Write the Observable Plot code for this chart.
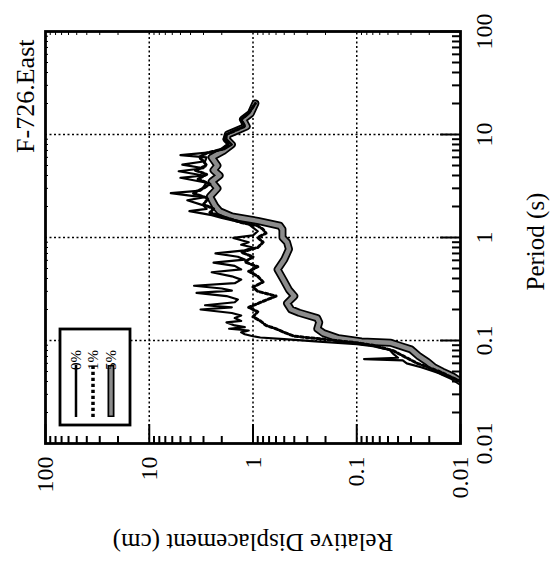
<!DOCTYPE html>
<html><head><meta charset="utf-8">
<script src="https://cdn.jsdelivr.net/npm/d3@7"></script>
<script src="https://cdn.jsdelivr.net/npm/@observablehq/plot@0.6"></script>
<style>
html,body{margin:0;padding:0;background:#fff;overflow:hidden;width:551px;height:563px;}
#wrap{position:absolute;left:0;top:0;width:563px;height:551px;transform-origin:0 0;transform:translate(0px,563px) rotate(-90deg);}
#wrap svg text{font-family:'Liberation Serif','Times New Roman',serif;}
</style></head><body><div id="wrap"></div>
<script>
const title = "F-726.East";
const xLabel = "Period (s)";
const yLabel = "Relative Displacement (cm)";
const seriesNames = ["0%", "1%", "5%"];
const decadeTicks = [0.01, 0.1, 1, 10, 100];
const decadeLabels = ["0.01", "0.1", "1", "10", "100"];

// 0% damping (solid black)
const period0 = [0.040,0.042,0.050,0.055,0.060,0.064,0.066,0.068,0.075,0.081,0.088,0.092,0.098,0.103,0.107,0.110,0.115,0.120,0.125,0.130,0.135,0.140,0.150,0.155,0.165,0.175,0.185,0.200,0.210,0.220,0.235,0.250,0.270,0.290,0.305,0.320,0.340,0.360,0.390,0.420,0.460,0.490,0.530,0.570,0.610,0.650,0.700,0.750,0.800,0.850,0.900,0.990,1.050,1.150,1.250,1.350,1.450,1.550,1.650,1.800,1.900,2.050,2.300,2.450,2.700,2.850,3.100,3.400,3.800,4.000,4.400,4.700,5.100,5.500,6.000,6.300,6.700,7.200,8.000,9.000,10.0,11.0,12.0,14.0,16.0,20.0];
const disp0   = [0.010,0.011,0.018,0.024,0.033,0.036,0.085,0.040,0.045,0.048,0.070,0.10,0.25,0.50,0.85,1.0,1.2,1.3,1.1,1.7,1.2,1.5,1.8,1.3,1.5,1.3,1.6,3.2,1.6,2.9,1.5,1.4,1.8,3.5,1.6,2.0,3.7,1.5,1.3,1.6,2.5,1.3,1.5,2.4,1.2,1.4,2.3,1.2,1.0,1.3,1.1,1.55,1.0,0.9,1.0,1.1,1.5,2.0,2.5,4.1,2.8,3.0,4.3,3.0,6.2,3.2,3.0,2.8,5.0,3.0,5.2,3.0,4.8,2.9,2.8,5.0,2.6,1.9,1.6,1.8,1.8,1.5,1.2,1.3,1.1,0.95];

// 1% damping (dotted black)
const period1 = [0.040,0.050,0.060,0.070,0.080,0.090,0.095,0.100,0.105,0.110,0.120,0.130,0.140,0.155,0.170,0.190,0.210,0.240,0.270,0.300,0.330,0.370,0.420,0.470,0.520,0.580,0.650,0.720,0.800,0.900,1.000,1.100,1.200,1.300,1.400,1.500,1.600,1.750,1.900,2.100,2.400,2.700,3.000,3.300,3.700,4.100,4.500,5.000,5.500,6.000,6.600,7.200,8.000,9.000,10.0,12.0,14.0,16.0,20.0];
const disp1   = [0.010,0.016,0.026,0.035,0.045,0.070,0.10,0.16,0.25,0.40,0.50,0.60,0.75,0.85,1.0,0.9,1.1,0.8,0.6,0.9,1.0,0.8,0.9,1.1,0.9,1.2,1.0,1.3,0.9,0.8,0.9,0.75,0.8,0.9,1.3,1.6,2.0,2.6,2.4,3.0,2.7,3.8,3.0,2.6,3.4,2.8,3.6,2.8,3.0,3.3,2.8,2.0,1.7,1.9,1.8,1.2,1.3,1.1,0.95];

// 5% damping (grey band)
const period5 = [0.040,0.045,0.050,0.055,0.0625,0.070,0.082,0.090,0.095,0.098,0.105,0.118,0.130,0.150,0.165,0.186,0.200,0.230,0.270,0.310,0.390,0.490,0.610,0.770,0.900,1.000,1.200,1.300,1.450,1.600,1.800,2.000,2.500,3.000,3.500,4.000,4.500,5.000,6.000,7.000,8.000,9.000,10.0,11.0,12.0,14.0,16.0,20.0];
const disp5   = [0.010,0.012,0.015,0.018,0.021,0.025,0.030,0.040,0.047,0.090,0.15,0.21,0.24,0.23,0.24,0.36,0.43,0.47,0.40,0.45,0.51,0.58,0.50,0.45,0.47,0.52,0.52,0.55,0.9,1.6,2.1,2.3,2.6,2.2,2.5,2.1,2.4,2.2,2.5,1.9,1.6,1.8,1.75,1.4,1.15,1.25,1.05,0.95];

const rows = (ps, ds, s) => ps.map((p, i) => ({period: p, disp: ds[i], series: s}));
const d0 = rows(period0, disp0, seriesNames[0]);
const d1 = rows(period1, disp1, seriesNames[1]);
const d5 = rows(period5, disp5, seriesNames[2]);

const minorTicks = [];
for (const dec of [0.01, 0.1, 1, 10]) for (let k = 2; k <= 9; k++) minorTicks.push(+(dec * k).toPrecision(3));

const W = 563, H = 551, mL = 119, mR = 32, mT = 45, mB = 91;
const fw = W - mL - mR, fh = H - mT - mB;
const labelMap = new Map(decadeTicks.map((d, i) => [d, decadeLabels[i]]));
const serif = "'Liberation Serif','Times New Roman',serif";

const chart = Plot.plot({
  width: W, height: H, marginLeft: mL, marginRight: mR, marginTop: mT, marginBottom: mB,
  style: {fontFamily: serif, fontSize: "24px", color: "#000", background: "#fff"},
  x: {type: "log", domain: [0.01, 100]},
  y: {type: "log", domain: [0.01, 100]},
  marks: [
    Plot.ruleX(decadeTicks.slice(1, -1), {stroke: "#000", strokeWidth: 1.5, strokeDasharray: "2,2.5"}),
    Plot.ruleY(decadeTicks.slice(1, -1), {stroke: "#000", strokeWidth: 1.5, strokeDasharray: "2,2.5"}),
    Plot.line(d5, {x: "period", y: "disp", stroke: "#000", strokeWidth: 8, clip: true}),
    Plot.line(d5, {x: "period", y: "disp", stroke: "#8c8c8c", strokeWidth: 4.5, clip: true}),
    Plot.line(d1, {x: "period", y: "disp", stroke: "#000", strokeWidth: 3, strokeDasharray: "3,2.5", clip: true}),
    Plot.line(d0, {x: "period", y: "disp", stroke: "#000", strokeWidth: 2.2, clip: true}),
    Plot.tickX(minorTicks, {x: d => d, insetTop: fh - 8, stroke: "#000", strokeWidth: 2}),
    Plot.tickX(decadeTicks, {x: d => d, insetTop: fh - 20, stroke: "#000", strokeWidth: 2}),
    Plot.tickX(minorTicks, {x: d => d, insetBottom: fh - 3, stroke: "#000", strokeWidth: 1}),
    Plot.tickY(minorTicks, {y: d => d, insetRight: fw - 8, stroke: "#000", strokeWidth: 2}),
    Plot.tickY(decadeTicks, {y: d => d, insetRight: fw - 20, stroke: "#000", strokeWidth: 2}),
    Plot.tickY(minorTicks, {y: d => d, insetLeft: fw - 3, stroke: "#000", strokeWidth: 1}),
    Plot.frame({stroke: "#000", strokeWidth: 2.8}),
    Plot.axisX({ticks: decadeTicks, tickSize: 0, tickPadding: 14, tickFormat: d => labelMap.get(d), fontSize: 24, fontFamily: serif, label: null}),
    Plot.axisY({ticks: decadeTicks, tickSize: 0, tickPadding: 13, tickFormat: d => labelMap.get(d), fontSize: 24, fontFamily: serif, label: null}),
    Plot.text([xLabel], {frameAnchor: "bottom", textAnchor: "middle", lineAnchor: "middle", dx: -4, dy: 75.5, fontSize: 25, fontFamily: serif}),
    Plot.text([yLabel], {frameAnchor: "left", textAnchor: "middle", lineAnchor: "middle", rotate: -90, dx: -98, fontSize: 25, fontFamily: serif}),
    Plot.text([title], {frameAnchor: "top-right", textAnchor: "end", lineAnchor: "middle", dx: -8, dy: -20, fontSize: 26, fontFamily: serif})
  ]
});

// legend
const svg = d3.select(chart);
const lg = svg.append("g");
lg.append("rect").attr("x", 138).attr("y", 60).attr("width", 96).attr("height", 70)
  .attr("fill", "#fff").attr("stroke", "#000").attr("stroke-width", 2.8);
const ly = [76, 93, 111];
seriesNames.forEach((name, i) => {
  const y = ly[i];
  if (i === 0) {
    lg.append("line").attr("x1", 146).attr("x2", 198).attr("y1", y).attr("y2", y).attr("stroke", "#000").attr("stroke-width", 2.5);
  } else if (i === 1) {
    lg.append("line").attr("x1", 146).attr("x2", 198).attr("y1", y).attr("y2", y).attr("stroke", "#000").attr("stroke-width", 3.5).attr("stroke-dasharray", "3.3,2.7");
  } else {
    lg.append("line").attr("x1", 146).attr("x2", 198).attr("y1", y).attr("y2", y).attr("stroke", "#000").attr("stroke-width", 7);
    lg.append("line").attr("x1", 147.5).attr("x2", 196.5).attr("y1", y).attr("y2", y).attr("stroke", "#8c8c8c").attr("stroke-width", 3.5);
  }
  lg.append("text").attr("x", 203).attr("y", y).attr("dy", "0.35em").style("font-size", "15px")
    .attr("fill", "#000").text(name);
});

document.getElementById("wrap").appendChild(chart);
</script>
</body></html>
